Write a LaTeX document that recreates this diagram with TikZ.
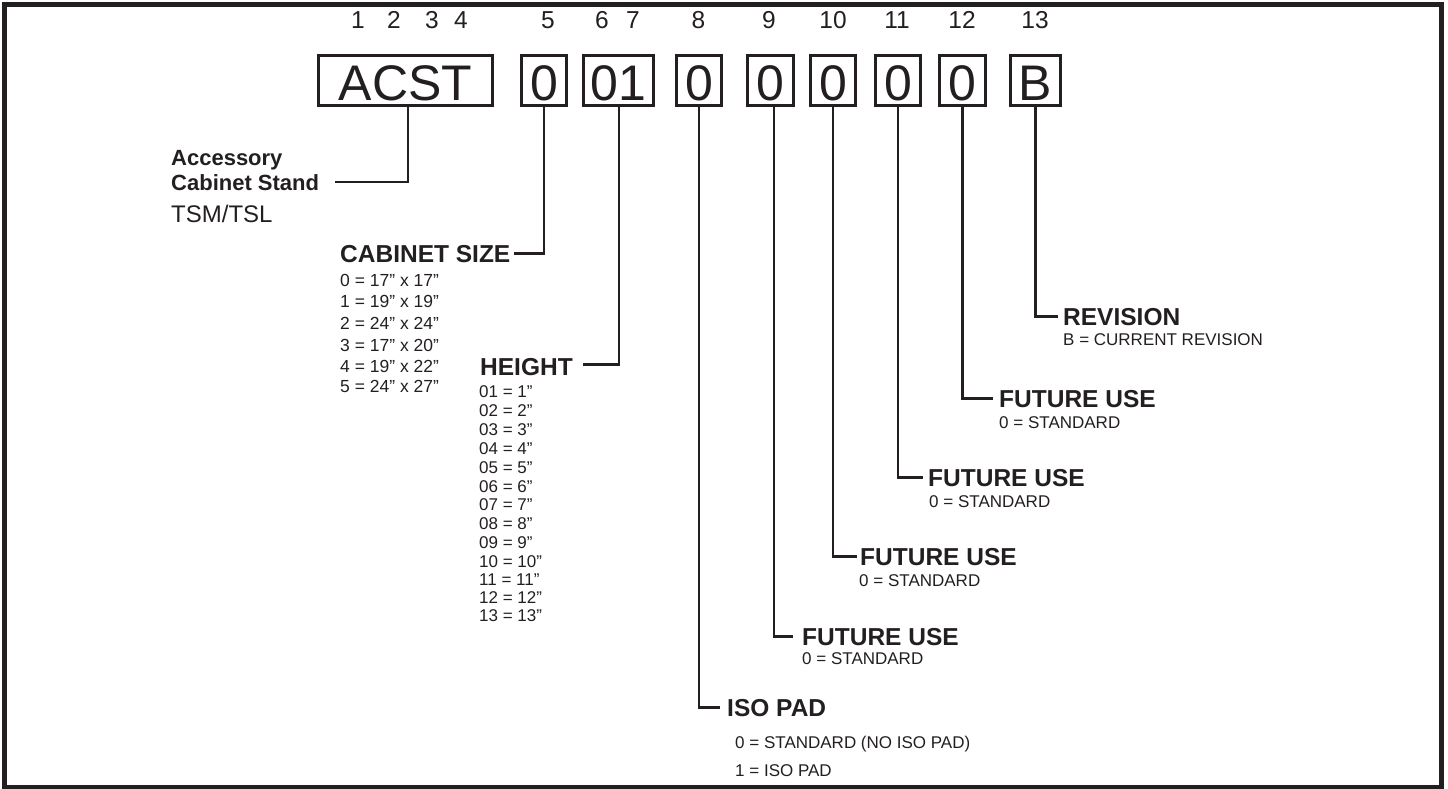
\documentclass[tikz,border=0pt]{standalone}
\usepackage{fontspec}
\setmainfont{Liberation Sans}
\definecolor{ink}{HTML}{231F20}
\begin{document}
\begin{tikzpicture}[x=1pt,y=-1pt,
  lbl/.style={inner sep=0pt, anchor=base west, text=ink},
  ttl/.style={lbl, font=\bfseries\fontsize{24.5}{24.5}\selectfont, text height=17.5pt, text depth=0pt},
  subl/.style={lbl, font=\fontsize{17}{17}\selectfont},
  sizel/.style={lbl, font=\fontsize{17.5}{17.5}\selectfont},
  dig/.style={inner sep=0pt, anchor=base, text=ink, font=\fontsize{24.5}{24.5}\selectfont},
  cbox/.style={draw=ink, line width=2.8pt, inner sep=0pt, minimum height=50pt, text=ink,
     font=\fontsize{50}{50}\selectfont, text height=40.6pt, text depth=0pt},
  conn/.style={draw=ink, line width=2.8pt}]
\useasboundingbox (0,0) rectangle (1448,789);
\draw[ink, line width=5pt] (4.5,4.7) rectangle (1441.5,787);

% code boxes
\node[cbox, minimum width=174pt] (b1) at (405.5,80.5) {ACST};
\node[cbox, minimum width=45pt] (b5) at (544,80.5) {0};
\node[cbox, minimum width=70pt] (b67) at (618.5,80.5) {01};
\node[cbox, minimum width=45pt] (b8) at (699,80.5) {0};
\node[cbox, minimum width=46pt] (b9) at (770.5,80.5) {0};
\node[cbox, minimum width=45pt] (b10) at (833,80.5) {0};
\node[cbox, minimum width=45pt] (b11) at (898,80.5) {0};
\node[cbox, minimum width=46pt] (b12) at (962.5,80.5) {0};
\node[cbox, minimum width=50pt] (b13) at (1035.5,80.5) {B};

% position digits
\node[dig] (d1) at (358,29) {1};
\node[dig] (d2) at (394,29) {2};
\node[dig] (d3) at (432,29) {3};
\node[dig] (d4) at (461,29) {4};
\node[dig] (d5) at (548,29) {5};
\node[dig] (d6) at (602,29) {6};
\node[dig] (d7) at (633,29) {7};
\node[dig] (d8) at (698.5,29) {8};
\node[dig] (d9) at (769,29) {9};
\node[dig] (d10) at (833,29) {10};
\node[dig] (d11) at (897,29) {11};
\node[dig] (d12) at (962,29) {12};
\node[dig] (d13) at (1035,29) {13};

% accessory
\node[lbl, font=\bfseries\fontsize{22}{22}\selectfont] (acc) at (171,165) {Accessory};
\node[lbl, font=\bfseries\fontsize{22}{22}\selectfont, text height=16pt, text depth=0pt] (cstand) at (171,190) {Cabinet Stand};
\node[lbl, font=\fontsize{24}{24}\selectfont] (tsm) at (171,222) {TSM/TSL};

% cabinet size
\node[ttl] (csize) at (340,262) {CABINET SIZE};
\node[sizel] (s0) at (340,286) {0 = 17” x 17”};
\node[sizel] (s1) at (340,307) {1 = 19” x 19”};
\node[sizel] (s2) at (340,329) {2 = 24” x 24”};
\node[sizel] (s3) at (340,351) {3 = 17” x 20”};
\node[sizel] (s4) at (340,372) {4 = 19” x 22”};
\node[sizel] (s5) at (340,392) {5 = 24” x 27”};

% height
\node[ttl] (hgt) at (480,375) {HEIGHT};
\node[subl] (h1) at (479,397) {01 = 1”};
\node[subl] (h2) at (479,416) {02 = 2”};
\node[subl] (h3) at (479,435) {03 = 3”};
\node[subl] (h4) at (479,454) {04 = 4”};
\node[subl] (h5) at (479,473) {05 = 5”};
\node[subl] (h6) at (479,492) {06 = 6”};
\node[subl] (h7) at (479,510) {07 = 7”};
\node[subl] (h8) at (479,529) {08 = 8”};
\node[subl] (h9) at (479,548) {09 = 9”};
\node[subl] (h10) at (479,567) {10 = 10”};
\node[subl] (h11) at (479,585) {11 = 11”};
\node[subl] (h12) at (479,603) {12 = 12”};
\node[subl] (h13) at (479,621) {13 = 13”};

% iso pad
\node[ttl] (iso) at (727,716) {ISO PAD};
\node[subl] (iso0) at (735,748) {0 = STANDARD (NO ISO PAD)};
\node[subl] (iso1) at (735,776) {1 = ISO PAD};

% future use
\node[ttl] (fu9) at (802,645) {FUTURE USE};
\node[subl] (fu9s) at (802,664) {0 = STANDARD};
\node[ttl] (fu10) at (860,565) {FUTURE USE};
\node[subl] (fu10s) at (859,586) {0 = STANDARD};
\node[ttl] (fu11) at (928,486) {FUTURE USE};
\node[subl] (fu11s) at (929,507) {0 = STANDARD};
\node[ttl] (fu12) at (999,407) {FUTURE USE};
\node[subl] (fu12s) at (999,428) {0 = STANDARD};

% revision
\node[ttl] (rev) at (1063,325) {REVISION};
\node[subl] (revs) at (1063,345) {B = CURRENT REVISION};

% connectors
\draw[conn] ([xshift=2.5pt]b1.south) |- ([xshift=16pt]cstand.east);
\draw[conn] (b5.south) |- ([xshift=3pt]csize.east);
\draw[conn] ([xshift=0.5pt]b67.south) |- ([xshift=10pt,yshift=2pt]hgt.east);
\draw[conn] (b8.south) |- ([xshift=-7pt]iso.west);
\draw[conn] ([xshift=3.5pt]b9.south) |- ([xshift=-9pt]fu9.west);
\draw[conn] (b10.south) |- ([xshift=-3pt]fu10.west);
\draw[conn] (b11.south) |- ([xshift=-5pt]fu11.west);
\draw[conn] (b12.south) |- ([xshift=-6pt]fu12.west);
\draw[conn] (b13.south) |- ([xshift=-5pt]rev.west);
\end{tikzpicture}
\end{document}
